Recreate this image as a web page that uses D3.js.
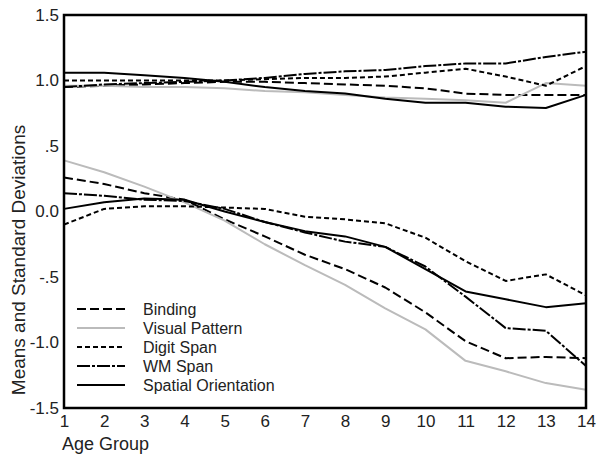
<!DOCTYPE html>
<html>
<head>
<meta charset="utf-8">
<script src="https://cdn.jsdelivr.net/npm/d3@7"></script>
<style>
  body { margin: 0; background: #fff; }
  svg { display: block; font-family: "Liberation Sans", Arial, sans-serif; }
</style>
</head>
<body>
<svg id="chart" width="597" height="454"></svg>
<script>
"use strict";

// ==========  Data  ==========
var ageGroups = [1, 2, 3, 4, 5, 6, 7, 8, 9, 10, 11, 12, 13, 14]
var yTicks      = [1.5, 1.0, 0.5, 0.0, -0.5, -1.0, -1.5]
var yTickLabels = ["1.5", "1.0", ".5", "0.0", "-.5", "-1.0", "-1.5"]

// means
var bindingMean  = [0.26, 0.21, 0.14, 0.09, -0.06, -0.19, -0.33, -0.44, -0.58, -0.77, -0.99, -1.12, -1.11, -1.12]
var visualMean   = [0.39, 0.30, 0.19, 0.07, -0.07, -0.25, -0.41, -0.56, -0.74, -0.90, -1.14, -1.22, -1.31, -1.36]
var digitMean    = [-0.10, 0.02, 0.04, 0.04, 0.03, 0.02, -0.04, -0.06, -0.09, -0.20, -0.38, -0.53, -0.48, -0.64]
var wmMean       = [0.14, 0.12, 0.09, 0.08, 0.02, -0.08, -0.16, -0.23, -0.27, -0.42, -0.65, -0.89, -0.91, -1.18]
var spatialMean  = [0.02, 0.07, 0.10, 0.09, 0.00, -0.08, -0.15, -0.19, -0.27, -0.44, -0.61, -0.67, -0.73, -0.70]

// standard deviations
var bindingSD  = [0.95, 0.96, 0.97, 0.98, 0.99, 0.99, 0.98, 0.97, 0.96, 0.94, 0.90, 0.89, 0.89, 0.89]
var visualSD   = [0.96, 0.96, 0.95, 0.95, 0.94, 0.92, 0.91, 0.89, 0.87, 0.86, 0.85, 0.83, 0.98, 0.96]
var digitSD    = [1.00, 1.00, 1.00, 1.00, 1.00, 1.01, 1.02, 1.02, 1.03, 1.06, 1.09, 1.03, 0.96, 1.11]
var wmSD       = [0.95, 0.97, 0.98, 0.99, 1.00, 1.02, 1.05, 1.07, 1.08, 1.11, 1.13, 1.13, 1.18, 1.22]
var spatialSD  = [1.06, 1.06, 1.04, 1.02, 0.99, 0.95, 0.92, 0.90, 0.86, 0.83, 0.83, 0.80, 0.79, 0.89]

var seriesNames = ["Binding", "Visual Pattern", "Digit Span", "WM Span", "Spatial Orientation"]
var seriesMeans = [bindingMean, visualMean, digitMean, wmMean, spatialMean]
var seriesSDs   = [bindingSD, visualSD, digitSD, wmSD, spatialSD]

// ==========  Styles  ==========
var styles = [
  { color: "#000", dash: "9,4",         width: 2 },
  { color: "#bbb", dash: null,          width: 2 },
  { color: "#000", dash: "5,3",         width: 2 },
  { color: "#000", dash: "13,2,3,2",    width: 2 },
  { color: "#000", dash: null,          width: 2 }
]

// ==========  Chart  ==========
var svg = d3.select("#chart")
var plotLeft = 64, plotRight = 586, plotTop = 15, plotBottom = 408

var x = d3.scaleLinear().domain([1, 14]).range([plotLeft, plotRight])
var y = d3.scaleLinear().domain([-1.5, 1.5]).range([plotBottom, plotTop])

var line = d3.line()
  .x(function(d, i) { return x(ageGroups[i]) })
  .y(function(d) { return y(d) })

for (var s = 0; s < seriesNames.length; ++s) {
  var st = styles[s];
  [seriesMeans[s], seriesSDs[s]].forEach(function(values) {
    svg.append("path")
       .datum(values)
       .attr("d", line)
       .attr("fill", "none")
       .attr("stroke", st.color)
       .attr("stroke-width", st.width)
       .attr("stroke-dasharray", st.dash)
       .attr("stroke-linejoin", "round")
  })
}

// frame
svg.append("rect")
   .attr("x", plotLeft).attr("y", plotTop)
   .attr("width", plotRight - plotLeft).attr("height", plotBottom - plotTop)
   .attr("fill", "none").attr("stroke", "#000").attr("stroke-width", 2.5)

// axes
var yAxis = d3.axisLeft(y).tickValues(yTicks).tickSize(0).tickPadding(5)
  .tickFormat(function(d, i) { return yTickLabels[i] })
var gy = svg.append("g").attr("transform", "translate(" + plotLeft + ",0)").call(yAxis)
gy.select(".domain").remove()
gy.selectAll("text").attr("font-size", 17).attr("fill", "#222").attr("font-family", "Liberation Sans, Arial, sans-serif")

var xAxis = d3.axisBottom(x).tickValues(ageGroups).tickSize(0).tickPadding(7)
  .tickFormat(d3.format("d"))
var gx = svg.append("g").attr("transform", "translate(0," + plotBottom + ")").call(xAxis)
gx.select(".domain").remove()
gx.selectAll("text").attr("font-size", 17).attr("fill", "#222").attr("font-family", "Liberation Sans, Arial, sans-serif")

// axis titles
svg.append("text")
   .attr("transform", "translate(25,260) rotate(-90)")
   .attr("text-anchor", "middle")
   .attr("font-size", 19).attr("fill", "#222")
   .text("Means and Standard Deviations")
svg.append("text")
   .attr("x", 62).attr("y", 450)
   .attr("font-size", 18).attr("fill", "#222")
   .text("Age Group")

// legend
var legend = svg.append("g")
seriesNames.forEach(function(name, i) {
  var ly = 309 + i * 19
  legend.append("line")
        .attr("x1", 77).attr("x2", 125).attr("y1", ly).attr("y2", ly)
        .attr("stroke", styles[i].color)
        .attr("stroke-width", styles[i].width)
        .attr("stroke-dasharray", styles[i].dash)
  legend.append("text")
        .attr("x", 143).attr("y", ly + 6)
        .attr("font-size", 16).attr("fill", "#222")
        .text(name)
})
</script>
</body>
</html>
